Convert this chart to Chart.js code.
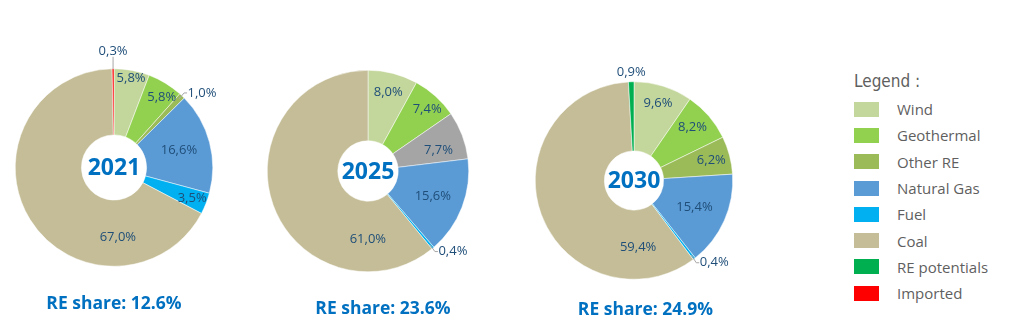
<!DOCTYPE html>
<html>
<head>
<meta charset="utf-8">
<script src="https://cdn.jsdelivr.net/npm/chart.js@4/dist/chart.umd.min.js"></script>
<style>
    body { margin: 0; background: #fff; width: 1024px; height: 333px; overflow: hidden; position: relative; font-family: 'Open Sans', sans-serif; }
    canvas { position: absolute; top: 0; }
    .re-share { position: absolute; transform: translate(-50%, -50%); color: #0070C0; font-weight: bold; font-size: 17.5px; white-space: nowrap; }
    #legend { position: absolute; left: 854px; top: 68px; color: #5f5f5f; }
    #legend .title { font-family: 'Liberation Sans Narrow', 'DejaVu Sans Condensed', sans-serif; font-size: 17px; height: 28px; line-height: 26px; }
    #legend .item { height: 26.3px; display: flex; align-items: center; font-size: 15px; }
    #legend .box { width: 25px; height: 15px; margin-right: 18px; }
</style>
</head>
<body>
<canvas id="pie-2021" width="250" height="333"></canvas>
<canvas id="pie-2025" width="250" height="333"></canvas>
<canvas id="pie-2030" width="250" height="333"></canvas>
<div id="legend"></div>
<script>
'use strict';

const categories = ['Wind', 'Geothermal', 'Other RE', 'Natural Gas', 'Fuel', 'Coal', 'RE potentials', 'Imported'];
const colors = ['#C3D69B', '#92D050', '#9BBB59', '#5B9BD5', '#00B0F0', '#C4BD97', '#00B050', '#FF0000'];
const years = ['2021', '2025', '2030'];
const share2021 = [5.8, 5.8, 1.0, 16.6, 3.5, 67.0, 0, 0.3];
const share2025 = [8.0, 7.4, 7.7, 15.6, 0.4, 61.0, 0, 0];
const share2030 = [9.6, 8.2, 6.2, 15.4, 0.4, 59.4, 0.9, 0];
const reShare = ['12.6%', '23.6%', '24.9%'];

// label placement: a = fraction along the slice, r = fraction of radius
const labels2021 = [{a: .52, r: .92}, {a: .64, r: .86}, {out: 'right', dy: -3}, {a: .5, r: .68},
    {a: .5, r: .85}, {a: .245, r: .71}, null, {out: 'up', line: true}];
const labels2025 = [{a: .5, r: .81}, {a: .56, r: .85}, {a: .65, r: .73}, {a: .5, r: .69},
    {out: 'right', dy: 3.5}, {a: .18, r: .68}, null, null];
const labels2030 = [{a: .5, r: .82}, {a: .45, r: .80}, {a: .5, r: .81}, {a: .5, r: .67},
    {out: 'right', dy: 4}, {a: .156, r: .68}, {out: 'up', line: false}, null];

const pies = [
    {id: 'pie-2021', data: share2021, labels: labels2021, cx: 114, cy: 167.5, r: 99, cut: '33%',
        colors: colors, share: [114, 302]},
    {id: 'pie-2025', data: share2025, labels: labels2025, cx: 367.5, cy: 171, r: 101, cut: '30%',
        colors: colors.map((c, i) => i === 2 ? '#A5A5A5' : c), share: [383, 307]},
    {id: 'pie-2030', data: share2030, labels: labels2030, cx: 634, cy: 180.5, r: 99, cut: '30%',
        colors: colors, share: [645.5, 308]},
];

const fmt = v => v.toFixed(1).replace('.', ',') + '%';

const sliceLabels = {
    id: 'sliceLabels',
    afterDatasetsDraw(chart, args, opts) {
        const ctx = chart.ctx;
        const meta = chart.getDatasetMeta(0);
        const values = chart.data.datasets[0].data;
        ctx.save();
        ctx.font = '13px "Open Sans"';
        ctx.fillStyle = '#1F4E79';
        ctx.strokeStyle = '#A6A6A6';
        ctx.lineWidth = 1;
        meta.data.forEach((arc, i) => {
            const pos = opts.placement[i];
            if (!pos || !values[i]) return;
            const p = arc.getProps(['x', 'y', 'startAngle', 'endAngle', 'outerRadius'], true);
            const text = fmt(values[i]);
            if (pos.out) {
                const mid = (p.startAngle + p.endAngle) / 2;
                const ex = p.x + Math.cos(mid) * p.outerRadius;
                const ey = p.y + Math.sin(mid) * p.outerRadius;
                if (pos.out === 'up') {
                    if (pos.line) {
                        ctx.beginPath();
                        ctx.moveTo(ex, ey);
                        ctx.lineTo(ex, ey - 12);
                        ctx.stroke();
                    }
                    ctx.textAlign = 'center';
                    ctx.textBaseline = 'middle';
                    ctx.fillText(text, ex, ey - (pos.line ? 17 : 9));
                } else {
                    const ty = ey + pos.dy;
                    ctx.beginPath();
                    ctx.moveTo(ex - 3, ey - pos.dy);
                    ctx.lineTo(ex + 2, ty);
                    ctx.lineTo(ex + 5, ty);
                    ctx.stroke();
                    ctx.textAlign = 'left';
                    ctx.textBaseline = 'middle';
                    ctx.fillText(text, ex + 5.5, ty);
                }
                return;
            }
            const ang = p.startAngle + (p.endAngle - p.startAngle) * pos.a;
            ctx.textAlign = 'center';
            ctx.textBaseline = 'middle';
            ctx.fillText(text, p.x + Math.cos(ang) * p.outerRadius * pos.r,
                p.y + Math.sin(ang) * p.outerRadius * pos.r);
        });
        // year in the hole
        const first = meta.data[0];
        ctx.font = 'bold 23px "Open Sans"';
        ctx.fillStyle = '#0070C0';
        ctx.textAlign = 'center';
        ctx.textBaseline = 'middle';
        ctx.fillText(opts.year, first.x, first.y + 1);
        ctx.restore();
    },
};

pies.forEach((pie, n) => {
    const canvas = document.getElementById(pie.id);
    canvas.style.left = (pie.cx - 125) + 'px';
    new Chart(canvas, {
        type: 'doughnut',
        data: {
            labels: categories,
            datasets: [{
                data: pie.data,
                backgroundColor: pie.colors,
                borderColor: '#ffffff',
                borderWidth: ctx => ctx.raw ? 0.5 : 0,
                hoverOffset: 0,
            }],
        },
        options: {
            responsive: false,
            animation: false,
            cutout: pie.cut,
            layout: {
                padding: {
                    left: 125 - pie.r,
                    right: 125 - pie.r,
                    top: pie.cy - pie.r,
                    bottom: 333 - pie.cy - pie.r,
                },
            },
            plugins: {
                legend: {display: false},
                tooltip: {enabled: false},
                sliceLabels: {placement: pie.labels, year: years[n]},
            },
        },
        plugins: [sliceLabels],
    });

    const share = document.createElement('div');
    share.className = 're-share';
    share.style.left = pie.share[0] + 'px';
    share.style.top = pie.share[1] + 'px';
    share.textContent = 'RE share: ' + reShare[n];
    document.body.appendChild(share);
});

let legendHtml = '<div class="title">Legend :</div>';
categories.forEach((name, i) => {
    legendHtml += '<div class="item"><div class="box" style="background:' + colors[i] + '"></div>' +
        name + '</div>';
});
document.getElementById('legend').innerHTML = legendHtml;
</script>
</body>
</html>
